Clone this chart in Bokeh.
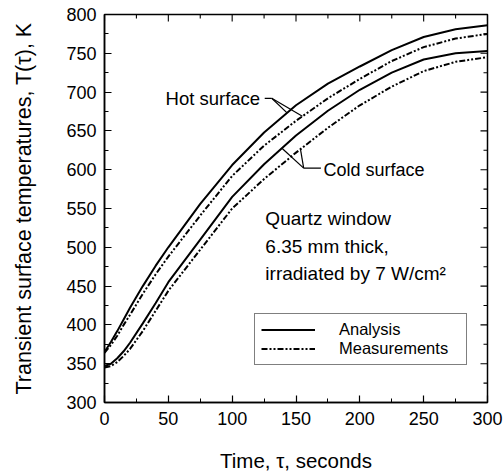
import numpy as np
from bokeh.plotting import figure
from bokeh.models import (Range1d, SingleIntervalTicker, Legend,
                          LegendItem, ColumnDataSource)
from bokeh.core.properties import value
from bokeh.embed import file_html
from bokeh.resources import INLINE

# Transient surface temperatures of a quartz window (K) versus time (s)
time_s = [0, 5, 10, 15, 20, 30, 40, 50, 75, 100, 125, 150, 175, 200, 225, 250, 275, 300]
hot_analysis = [365, 378, 392, 407, 422, 450, 476, 500, 556, 606, 648, 683, 711, 733, 754, 771, 781, 786]
hot_measured = [364, 374, 386, 400, 413, 440, 465, 488, 541, 592, 631, 663, 692, 717, 740, 758, 769, 775]
cold_analysis = [347, 350, 357, 366, 377, 402, 428, 455, 510, 565, 607, 644, 676, 703, 725, 742, 750, 753]
cold_measured = [345, 347, 352, 360, 369, 392, 418, 444, 497, 550, 588, 622, 654, 683, 707, 727, 739, 745]

x_limits = (0, 300)
y_limits = (300, 800)
tick_step = 50
minor_step = 25

FONT = "Liberation Sans"
MEAS_DASH = "6 2 2 2 2 2"
MAJOR_IN, MINOR_IN = 7, 4

p = figure(width=503, height=476,
           x_range=Range1d(*x_limits), y_range=Range1d(*y_limits),
           output_backend="svg", toolbar_location=None,
           min_border_left=104, min_border_right=16,
           min_border_top=14, min_border_bottom=74,
           x_axis_label="Time, \u03c4, seconds",
           y_axis_label="Transient surface temperatures, T(\u03c4), K")
p.xgrid.visible = False
p.ygrid.visible = False
p.outline_line_color = "black"
p.outline_line_width = 1.5
p.background_fill_color = "white"
p.border_fill_color = "white"

for ax in p.axis:
    ax.ticker = SingleIntervalTicker(interval=tick_step, num_minor_ticks=2)
    ax.major_tick_in = MAJOR_IN
    ax.major_tick_out = 0
    ax.minor_tick_in = MINOR_IN
    ax.minor_tick_out = 0
    ax.axis_line_width = 1.5
    ax.axis_line_color = "black"
    ax.major_tick_line_color = "black"
    ax.minor_tick_line_color = "black"
    ax.major_tick_line_width = 1.2
    ax.minor_tick_line_width = 1
    ax.major_label_text_font = FONT
    ax.major_label_text_color = "black"
    ax.axis_label_text_font = FONT
    ax.axis_label_text_font_style = "normal"
    ax.axis_label_text_color = "black"

xa = p.below[0]
xa.major_label_text_font_size = "18px"
xa.major_label_standoff = 9
xa.axis_label_text_font_size = "20.5px"
xa.axis_label_standoff = 21

ya = p.left[0]
ya.major_label_text_font_size = "18px"
ya.major_label_standoff = 8
ya.axis_label_text_font_size = "21.5px"
ya.axis_label_standoff = 27

# mirrored inward ticks along the top and right edges of the frame
x_ticks = np.arange(x_limits[0], x_limits[1] + 1, minor_step)
y_ticks = np.arange(y_limits[0], y_limits[1] + 1, minor_step)
x_len = [MAJOR_IN if v % tick_step == 0 else MINOR_IN for v in x_ticks]
y_len = [MAJOR_IN if v % tick_step == 0 else MINOR_IN for v in y_ticks]
p.ray(x=x_ticks, y=[y_limits[1]] * len(x_ticks), length=x_len,
      length_units="screen", angle=-np.pi / 2, line_color="black", line_width=1.1)
p.ray(x=[x_limits[1]] * len(y_ticks), y=y_ticks, length=y_len,
      length_units="screen", angle=np.pi, line_color="black", line_width=1.1)

src = ColumnDataSource(dict(t=time_s, ha=hot_analysis, hm=hot_measured,
                            ca=cold_analysis, cm=cold_measured))

r_ha = p.line("t", "ha", source=src, line_color="black", line_width=2)
r_ca = p.line("t", "ca", source=src, line_color="black", line_width=2)
r_hm = p.line("t", "hm", source=src, line_color="black", line_width=2,
              line_dash=MEAS_DASH)
r_cm = p.line("t", "cm", source=src, line_color="black", line_width=2,
              line_dash=MEAS_DASH)

# curve labels with leader lines ending on the curves
p.text(x=[47.8], y=[692], text=["Hot surface"], text_font=value(FONT),
       text_font_size="18.5px", text_align="left", text_baseline="middle",
       text_color="black")
p.text(x=[171.5], y=[599], text=["Cold surface"], text_font=value(FONT),
       text_font_size="18px", text_align="left", text_baseline="middle",
       text_color="black")

hot_join = (131.0, 692.0)
hot_pts = [(143.0, float(np.interp(143.0, time_s, hot_analysis))),
           (155.0, float(np.interp(155.0, time_s, hot_measured)))]
cold_join = (156.0, 602.0)
cold_pts = [(139.0, float(np.interp(139.0, time_s, cold_analysis))),
            (153.5, float(np.interp(153.5, time_s, cold_measured)))]

lx0, ly0, lx1, ly1 = [125.5], [692.0], [hot_join[0]], [hot_join[1]]
for tx, ty in hot_pts:
    lx0.append(hot_join[0]); ly0.append(hot_join[1]); lx1.append(tx); ly1.append(ty)
lx0.append(cold_join[0]); ly0.append(cold_join[1]); lx1.append(169.5); ly1.append(cold_join[1])
for tx, ty in cold_pts:
    lx0.append(cold_join[0]); ly0.append(cold_join[1]); lx1.append(tx); ly1.append(ty)
p.segment(x0=lx0, y0=ly0, x1=lx1, y1=ly1, line_color="black", line_width=1.2)

p.text(x=[126, 126, 126], y=[537, 501, 466],
       text=["Quartz window", "6.35 mm thick,", "irradiated by 7 W/cm\u00b2"],
       text_font=value(FONT), text_font_size="19px", text_align="left",
       text_baseline="middle", text_color="black")

legend = Legend(items=[LegendItem(label="Analysis", renderers=[r_ha]),
                       LegendItem(label="Measurements", renderers=[r_hm])],
                location=(150, 37), orientation="vertical",
                glyph_width=54, glyph_height=15, label_height=15,
                label_width=121, label_standoff=24, spacing=0, padding=6,
                label_text_font=FONT, label_text_font_size="16.5px",
                label_text_color="black",
                border_line_color="black", border_line_width=1,
                background_fill_color="white", background_fill_alpha=1)
p.add_layout(legend)

open("out.html", "w").write(file_html(p, INLINE))
